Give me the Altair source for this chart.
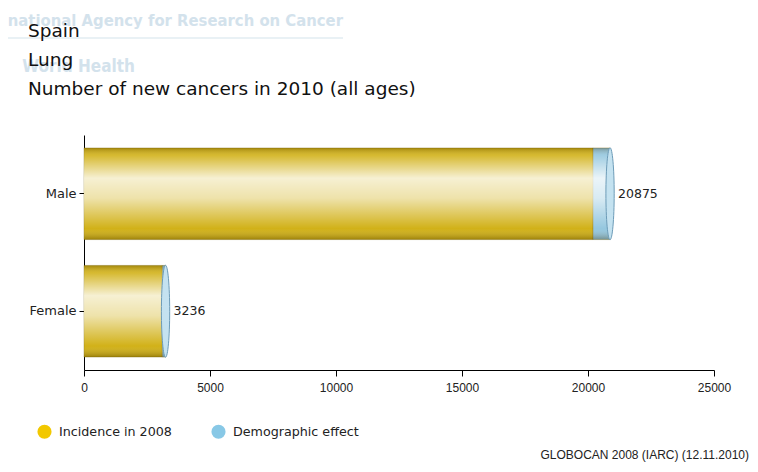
import altair as alt
import pandas as pd

sexes = ["Male", "Female"]
incidence_2008 = [20200, 3110]
demographic_effect = [675, 126]
totals = [20875, 3236]
series_names = ["Incidence in 2008", "Demographic effect"]
series_colors = ["#cfad0c", "#8fc4dd"]
legend_colors = ["#f2c800", "#88c8e6"]
x_ticks = [0, 5000, 10000, 15000, 20000, 25000]
title_text = "Spain\nLung\nNumber of new cancers in 2010 (all ages)"
footnote = "GLOBOCAN 2008 (IARC) (12.11.2010)"
watermark1 = "national Agency for Research on Cancer"
watermark2 = "World Health"

rows = []
for i, s in enumerate(sexes):
    rows.append({"sex": s, "series": series_names[0], "value": incidence_2008[i], "ord": 0})
    rows.append({"sex": s, "series": series_names[1], "value": demographic_effect[i], "ord": 1})
df = pd.DataFrame(rows)
tot = pd.DataFrame({"sex": sexes, "total": totals})

W, H = 630, 235
WM_FONT = "DejaVu Sans Condensed, Liberation Sans"

x_enc = alt.X(
    "value:Q", stack="zero",
    scale=alt.Scale(domain=[0, 25000], nice=False),
    axis=alt.Axis(values=x_ticks, title=None, grid=False, domainColor="#000", tickColor="#000",
                  tickSize=6, labelFontSize=12, labelColor="#222", labelFont="Liberation Sans",
                  labelPadding=6, format="d", labelFlush=False),
)
y_enc = alt.Y(
    "sex:N", sort=sexes,
    scale=alt.Scale(paddingInner=0.22, paddingOuter=0.11),
    axis=alt.Axis(title=None, domainColor="#000", tickColor="#000", tickSize=5,
                  labelFontSize=13, labelColor="#222", labelFont="DejaVu Sans", labelPadding=3),
)

base = alt.Chart(df).mark_bar(stroke="#7d6a10", strokeWidth=0.6, strokeOpacity=0.6).encode(
    x=x_enc, y=y_enc,
    order=alt.Order("ord:Q"),
    fill=alt.Fill("series:N", scale=alt.Scale(domain=series_names, range=series_colors), legend=None),
)

legend_layer = alt.Chart(df).mark_point(filled=True, opacity=0, size=1).encode(
    x=alt.X("value:Q"), y=alt.Y("sex:N", sort=sexes),
    color=alt.Color("series:N",
                    scale=alt.Scale(domain=series_names, range=legend_colors),
                    legend=alt.Legend(orient="none", legendX=-47, legendY=289, direction="horizontal",
                                      title=None, symbolType="circle", symbolSize=200, symbolOpacity=1,
                                      symbolStrokeWidth=0, labelFontSize=12.7, labelFont="DejaVu Sans",
                                      labelColor="#222", columnPadding=39, padding=0, labelOffset=7)),
)

shade = alt.Chart(df).mark_bar(
    color=alt.Gradient(
        gradient="linear", x1=0, x2=0, y1=0, y2=1,
        stops=[
            alt.GradientStop(offset=0, color="rgba(60,45,0,0.30)"),
            alt.GradientStop(offset=0.08, color="rgba(255,255,255,0.15)"),
            alt.GradientStop(offset=0.33, color="rgba(255,255,255,0.82)"),
            alt.GradientStop(offset=0.55, color="rgba(255,255,255,0.65)"),
            alt.GradientStop(offset=0.88, color="rgba(255,255,255,0.05)"),
            alt.GradientStop(offset=1, color="rgba(60,45,0,0.35)"),
        ],
    )
).encode(x=x_enc, y=y_enc, order=alt.Order("ord:Q"))

cap = alt.Chart(tot).mark_point(
    shape="M0,-1 A0.09,1 0 1,1 0,1 A0.09,1 0 1,1 0,-1 Z",
    filled=True, fill="#c4e2f0", stroke="#6d9cb8", strokeWidth=1, opacity=1, size=92 * 92,
).encode(x=alt.X("total:Q"), y=alt.Y("sex:N", sort=sexes))

labels = alt.Chart(tot).mark_text(
    align="left", baseline="middle", dx=8, fontSize=12.5, font="DejaVu Sans", color="#222"
).encode(x=alt.X("total:Q"), y=alt.Y("sex:N", sort=sexes), text=alt.Text("total:Q", format="d"))

wm = alt.Chart(pd.DataFrame({"t": [watermark1]})).mark_text(
    align="right", baseline="alphabetic", fontSize=16.5, font=WM_FONT,
    fontWeight="bold", color="#d3e2ec"
).encode(x=alt.value(343 - 84), y=alt.value(26 - 135), text="t")

wm_line = alt.Chart(pd.DataFrame({"a": [0]})).mark_rule(color="#e2ecf2", strokeWidth=1.5).encode(
    x=alt.value(-90), x2=alt.value(343 - 84), y=alt.value(38 - 135))

wm2 = alt.Chart(pd.DataFrame({"t": [watermark2]})).mark_text(
    align="right", baseline="alphabetic", fontSize=17, font=WM_FONT,
    fontWeight="bold", color="#d3e2ec"
).encode(x=alt.value(135 - 84), y=alt.value(72 - 135), text="t")

title = alt.Chart(pd.DataFrame({"t": [title_text]})).mark_text(
    align="left", baseline="alphabetic", fontSize=18.5, font="DejaVu Sans", color="#111",
    lineBreak="\n", lineHeight=29
).encode(x=alt.value(28 - 84), y=alt.value(37 - 135), text="t")

foot = alt.Chart(pd.DataFrame({"t": [footnote]})).mark_text(
    align="right", baseline="alphabetic", fontSize=12, font="Liberation Sans", color="#222"
).encode(x=alt.value(749 - 84), y=alt.value(459 - 135), text="t")

chart = alt.layer(wm_line, wm, wm2, legend_layer, base, shade, cap, labels, title, foot).properties(
    width=W, height=H,
    autosize=alt.AutoSizeParams(type="none"),
    padding={"left": 76, "top": 127, "right": 36, "bottom": 94},
    background="white",
).configure_view(stroke=None)

chart.save("out.html", embed_options={"renderer": "svg", "actions": False})
